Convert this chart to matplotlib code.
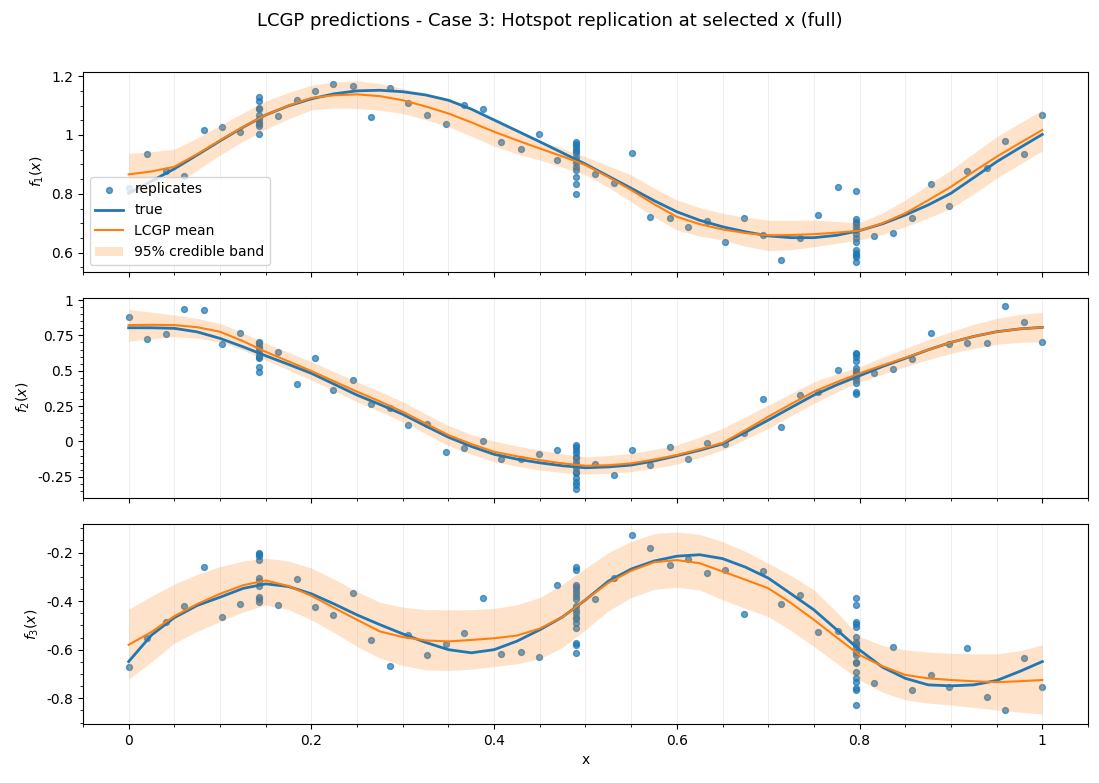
import matplotlib
matplotlib.use("Agg")
import matplotlib.pyplot as plt
from matplotlib.ticker import FuncFormatter, MultipleLocator, AutoMinorLocator

# design points with a single replicate
x_single = [0.0, 0.020, 0.041, 0.061, 0.082, 0.102, 0.122,
            0.163, 0.184, 0.204, 0.224, 0.245, 0.265, 0.286, 0.306, 0.327, 0.347,
            0.367, 0.388, 0.408, 0.429, 0.449, 0.469,
            0.510, 0.531, 0.551, 0.571, 0.592, 0.612, 0.633, 0.653, 0.673, 0.694,
            0.714, 0.735, 0.755, 0.776,
            0.816, 0.837, 0.857, 0.878, 0.898, 0.918, 0.939, 0.959, 0.980, 1.0]

y1_single = [0.821, 0.934, 0.877, 0.860, 1.016, 1.026, 1.009,
             1.063, 1.120, 1.148, 1.172, 1.168, 1.060, 1.159, 1.107, 1.067, 1.037,
             1.102, 1.087, 0.975, 0.951, 1.002, 0.914,
             0.866, 0.836, 0.938, 0.720, 0.717, 0.686, 0.708, 0.635, 0.717, 0.659,
             0.574, 0.649, 0.727, 0.822,
             0.656, 0.666, 0.717, 0.832, 0.758, 0.876, 0.887, 0.978, 0.934, 1.067]
y2_single = [0.878, 0.722, 0.757, 0.934, 0.927, 0.687, 0.764,
             0.630, 0.406, 0.588, 0.361, 0.432, 0.262, 0.234, 0.114, 0.121, -0.077,
             -0.049, 0.001, -0.127, -0.122, -0.091, -0.063,
             -0.162, -0.240, -0.063, -0.169, -0.042, -0.127, -0.011, -0.021, 0.057, 0.298,
             0.100, 0.326, 0.352, 0.503,
             0.482, 0.510, 0.580, 0.764, 0.687, 0.694, 0.694, 0.955, 0.842, 0.701]
y3_single = [-0.672, -0.553, -0.487, -0.422, -0.260, -0.466, -0.413,
             -0.417, -0.310, -0.425, -0.458, -0.367, -0.561, -0.668, -0.540, -0.623, -0.577,
             -0.532, -0.388, -0.619, -0.610, -0.631, -0.334,
             -0.392, -0.306, -0.128, -0.182, -0.252, -0.227, -0.285, -0.273, -0.454, -0.277,
             -0.413, -0.376, -0.528, -0.524,
             -0.738, -0.590, -0.767, -0.705, -0.755, -0.594, -0.796, -0.849, -0.635, -0.755]

# hotspot locations with many replicates
hot_x = [0.143, 0.490, 0.796]
y1_hot = [
    [1.130, 1.117, 1.092, 1.090, 1.068, 1.053, 1.045, 1.039, 1.029, 1.005],
    [0.977, 0.971, 0.962, 0.954, 0.946, 0.938, 0.926, 0.915, 0.904, 0.892, 0.880, 0.858, 0.832, 0.798],
    [0.808, 0.713, 0.705, 0.697, 0.688, 0.677, 0.662, 0.649, 0.635, 0.609, 0.600, 0.592, 0.586, 0.567],
]
y2_hot = [
    [0.705, 0.694, 0.675, 0.663, 0.641, 0.611, 0.599, 0.588, 0.528, 0.493],
    [-0.025, -0.037, -0.061, -0.084, -0.108, -0.120, -0.143, -0.167, -0.190, -0.214, -0.226,
     -0.261, -0.285, -0.308, -0.337],
    [0.627, 0.616, 0.599, 0.569, 0.517, 0.498, 0.482, 0.458, 0.434, 0.415, 0.347, 0.333],
]
y3_hot = [
    [-0.200, -0.207, -0.214, -0.230, -0.305, -0.319, -0.336, -0.384, -0.392, -0.402],
    [-0.260, -0.271, -0.333, -0.340, -0.354, -0.367, -0.381, -0.392, -0.422, -0.436, -0.450,
     -0.464, -0.474, -0.491, -0.512, -0.573, -0.580, -0.614],
    [-0.388, -0.418, -0.487, -0.495, -0.505, -0.549, -0.567, -0.577, -0.587, -0.608, -0.622,
     -0.649, -0.656, -0.693, -0.718, -0.732, -0.759, -0.766, -0.828],
]

# curves, read every 0.025
x_curve = [0.0, 0.025, 0.05, 0.075, 0.1, 0.125, 0.15, 0.175, 0.2, 0.225,
           0.25, 0.275, 0.3, 0.325, 0.35, 0.375, 0.4, 0.425, 0.45, 0.475,
           0.5, 0.525, 0.55, 0.575, 0.6, 0.625, 0.65, 0.675, 0.7, 0.725,
           0.75, 0.775, 0.8, 0.825, 0.85, 0.875, 0.9, 0.925, 0.95, 0.975, 1.0]

f1_true = [0.802, 0.843, 0.885, 0.932, 0.980, 1.026, 1.068, 1.099, 1.123, 1.140,
           1.150, 1.152, 1.147, 1.136, 1.118, 1.088, 1.051, 1.014, 0.977, 0.939,
           0.901, 0.860, 0.819, 0.777, 0.739, 0.710, 0.688, 0.671, 0.657, 0.651,
           0.651, 0.659, 0.675, 0.698, 0.728, 0.762, 0.802, 0.855, 0.909, 0.956, 1.002]
f1_mean = [0.866, 0.876, 0.892, 0.935, 0.982, 1.027, 1.068, 1.100, 1.126, 1.135,
           1.138, 1.132, 1.118, 1.097, 1.073, 1.043, 1.011, 0.982, 0.954, 0.927,
           0.898, 0.857, 0.813, 0.765, 0.722, 0.697, 0.679, 0.667, 0.659, 0.660,
           0.663, 0.668, 0.675, 0.700, 0.734, 0.778, 0.824, 0.876, 0.926, 0.972, 1.017]
f1_lo = [0.796, 0.812, 0.832, 0.880, 0.932, 0.978, 1.020, 1.055, 1.085, 1.092,
         1.090, 1.084, 1.073, 1.052, 1.028, 0.996, 0.962, 0.936, 0.915, 0.890,
         0.864, 0.822, 0.773, 0.722, 0.677, 0.656, 0.643, 0.622, 0.607, 0.610,
         0.620, 0.632, 0.643, 0.662, 0.688, 0.718, 0.751, 0.800, 0.853, 0.900, 0.946]
f1_hi = [0.937, 0.943, 0.952, 0.990, 1.032, 1.075, 1.115, 1.145, 1.169, 1.180,
         1.184, 1.175, 1.158, 1.142, 1.124, 1.090, 1.056, 1.018, 0.980, 0.954,
         0.926, 0.895, 0.864, 0.820, 0.779, 0.753, 0.734, 0.720, 0.711, 0.710,
         0.711, 0.706, 0.702, 0.735, 0.779, 0.830, 0.881, 0.938, 0.994, 1.040, 1.085]

f2_true = [0.804, 0.804, 0.800, 0.775, 0.729, 0.670, 0.606, 0.545, 0.482, 0.405,
           0.328, 0.262, 0.192, 0.110, 0.030, -0.035, -0.091, -0.125, -0.151, -0.172,
           -0.186, -0.180, -0.167, -0.138, -0.101, -0.062, -0.017, 0.065, 0.151, 0.240,
           0.328, 0.400, 0.465, 0.530, 0.588, 0.648, 0.701, 0.743, 0.776, 0.796, 0.807]
f2_mean = [0.823, 0.825, 0.823, 0.808, 0.776, 0.710, 0.634, 0.566, 0.498, 0.425,
           0.352, 0.283, 0.210, 0.127, 0.045, -0.018, -0.073, -0.105, -0.132, -0.155,
           -0.172, -0.168, -0.155, -0.128, -0.096, -0.055, -0.010, 0.080, 0.175, 0.265,
           0.352, 0.420, 0.482, 0.538, 0.592, 0.648, 0.701, 0.743, 0.776, 0.796, 0.807]
f2_lo = [0.710, 0.725, 0.741, 0.730, 0.705, 0.645, 0.576, 0.505, 0.434, 0.358,
         0.281, 0.212, 0.139, 0.055, -0.030, -0.090, -0.143, -0.175, -0.202, -0.220,
         -0.231, -0.226, -0.214, -0.190, -0.160, -0.113, -0.061, 0.015, 0.093, 0.182,
         0.269, 0.350, 0.422, 0.475, 0.528, 0.578, 0.623, 0.658, 0.687, 0.700, 0.705]
f2_hi = [0.934, 0.915, 0.894, 0.870, 0.835, 0.770, 0.694, 0.630, 0.564, 0.493,
         0.422, 0.353, 0.281, 0.195, 0.112, 0.050, 0.002, -0.032, -0.061, -0.088,
         -0.108, -0.100, -0.084, -0.058, -0.025, 0.030, 0.093, 0.175, 0.257, 0.340,
         0.422, 0.478, 0.528, 0.595, 0.658, 0.720, 0.776, 0.828, 0.870, 0.898, 0.913]

f3_true = [-0.649, -0.540, -0.468, -0.418, -0.384, -0.348, -0.329, -0.340, -0.370, -0.412,
           -0.457, -0.497, -0.535, -0.570, -0.600, -0.613, -0.600, -0.565, -0.518, -0.465,
           -0.395, -0.318, -0.268, -0.235, -0.215, -0.209, -0.225, -0.260, -0.305, -0.370,
           -0.436, -0.518, -0.601, -0.672, -0.718, -0.745, -0.749, -0.745, -0.727, -0.690, -0.649]
f3_mean = [-0.580, -0.527, -0.462, -0.412, -0.370, -0.335, -0.315, -0.338, -0.378, -0.428,
           -0.477, -0.525, -0.548, -0.562, -0.566, -0.560, -0.553, -0.542, -0.513, -0.465,
           -0.395, -0.325, -0.275, -0.240, -0.231, -0.244, -0.278, -0.312, -0.347, -0.408,
           -0.477, -0.550, -0.622, -0.668, -0.704, -0.718, -0.725, -0.730, -0.734, -0.730, -0.725]
f3_lo = [-0.722, -0.650, -0.573, -0.525, -0.484, -0.445, -0.416, -0.435, -0.477, -0.530,
         -0.587, -0.635, -0.665, -0.683, -0.686, -0.680, -0.670, -0.658, -0.637, -0.590,
         -0.518, -0.440, -0.385, -0.352, -0.343, -0.354, -0.395, -0.430, -0.464, -0.522,
         -0.587, -0.656, -0.725, -0.775, -0.807, -0.820, -0.828, -0.838, -0.848, -0.857, -0.865]
f3_hi = [-0.433, -0.380, -0.330, -0.290, -0.258, -0.235, -0.223, -0.235, -0.264, -0.310,
         -0.361, -0.405, -0.425, -0.435, -0.436, -0.435, -0.430, -0.415, -0.385, -0.330,
         -0.265, -0.200, -0.155, -0.122, -0.115, -0.125, -0.155, -0.195, -0.244, -0.295,
         -0.354, -0.445, -0.546, -0.583, -0.601, -0.610, -0.615, -0.617, -0.617, -0.605, -0.580]

panels = [
    ("$f_1(x)$", y1_single, y1_hot, f1_true, f1_mean, f1_lo, f1_hi, (0.535, 1.215), 0.2),
    ("$f_2(x)$", y2_single, y2_hot, f2_true, f2_mean, f2_lo, f2_hi, (-0.399, 1.016), 0.25),
    ("$f_3(x)$", y3_single, y3_hot, f3_true, f3_mean, f3_lo, f3_hi, (-0.906, -0.082), 0.2),
]

fig, axes = plt.subplots(3, 1, figsize=(10.99, 7.83), dpi=100, sharex=True)
fig.subplots_adjust(left=0.0755, right=0.990, top=0.9084, bottom=0.0754, hspace=0.13)

fmt = FuncFormatter(lambda v, p: f"{v:g}")

for ax, (lab, ys, yh, tr, mu, lo, hi, ylim, step) in zip(axes, panels):
    xs = list(x_single)
    yy = list(ys)
    for hx, vals in zip(hot_x, yh):
        xs += [hx] * len(vals)
        yy += vals
    ax.scatter(xs, yy, s=18, color="C0", alpha=0.7, label="replicates")
    ax.plot(x_curve, tr, color="C0", lw=2, label="true")
    ax.plot(x_curve, mu, color="C1", lw=1.5, label="LCGP mean")
    ax.fill_between(x_curve, lo, hi, color="C1", alpha=0.22, lw=0, label="95% credible band")
    ax.set_ylabel(lab)
    ax.set_ylim(*ylim)
    ax.set_xlim(-0.05, 1.05)
    ax.yaxis.set_major_locator(MultipleLocator(step))
    ax.yaxis.set_minor_locator(AutoMinorLocator())
    ax.xaxis.set_major_locator(MultipleLocator(0.2))
    ax.xaxis.set_minor_locator(AutoMinorLocator())
    ax.grid(True, which="both", axis="x", alpha=0.25, lw=0.6)
    ax.yaxis.set_major_formatter(fmt)
    ax.xaxis.set_major_formatter(fmt)

axes[0].legend(loc="lower left")
axes[2].set_xlabel("x")
fig.suptitle("LCGP predictions - Case 3: Hotspot replication at selected x (full)", fontsize=13, y=0.985)

fig.savefig("out.png", dpi=100)
